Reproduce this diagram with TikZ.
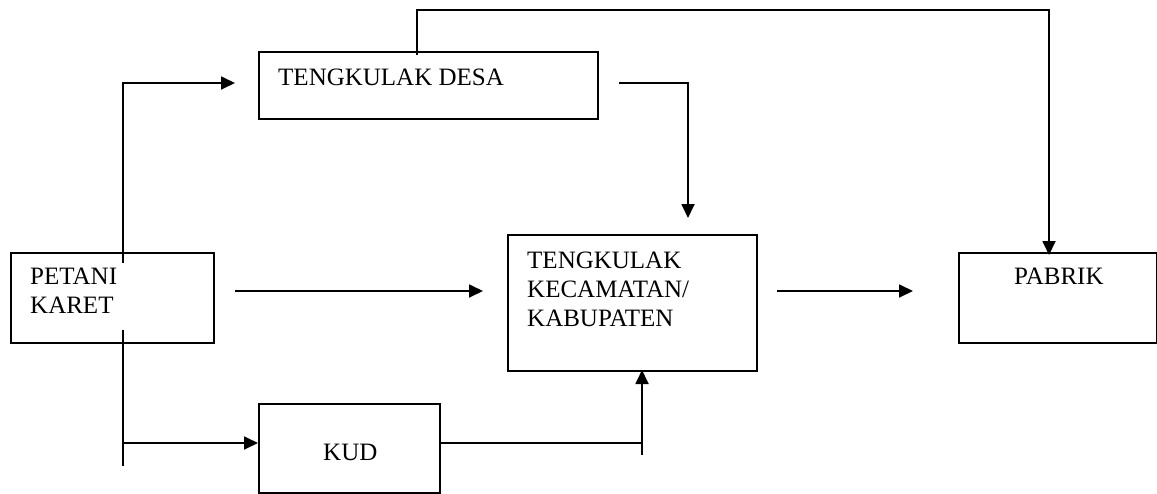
\documentclass[tikz,border=0pt]{standalone}
\usepackage{fontspec}
\setmainfont{Liberation Serif}
\usetikzlibrary{arrows.meta}
\tikzset{
  box/.style={draw=black, line width=1.8pt, rectangle, inner sep=0pt, anchor=north west},
  lbl/.style={inner sep=0pt, align=left, font=\fontsize{25}{28.8}\selectfont, anchor=base west},
  conn/.style={line width=1.8pt, draw=black},
  arr/.style={conn, -{Triangle[length=14pt,width=13pt]}}
}
\begin{document}
\begin{tikzpicture}[x=1pt,y=-1pt]
\useasboundingbox (0,0) rectangle (1157,493);
% boxes
\node[box, minimum width=339pt, minimum height=67pt] (td) at (258,51) {};
\node[box, minimum width=203pt, minimum height=90pt] (pk) at (10,252) {};
\node[box, minimum width=249pt, minimum height=136pt] (tk) at (507,234) {};
\node[box, minimum width=198pt, minimum height=90pt] (pb) at (958,252) {};
\node[box, minimum width=181pt, minimum height=89pt] (kud) at (258,403) {};
% texts (base = baseline of the last line)
\node[lbl] (tdt) at (278,85) {TENGKULAK DESA};
\node[lbl] (pkt) at (30,313) {PETANI\\KARET};
\node[lbl] (tkt) at (527,326) {TENGKULAK\\KECAMATAN/\\KABUPATEN};
\node[lbl] (pbt) at (1014,284) {PABRIK};
\node[lbl] (kudt) at (323,460) {KUD};
% connector points
\coordinate (pkUp) at (123,263);
\coordinate (tdIn) at (235,83);
\coordinate (tdTop) at (417,55);
\coordinate (topR) at (1049,10);
\coordinate (pbIn) at (1049,255);
\coordinate (tdR) at (619,83);
\coordinate (tkIn) at (688,218);
\coordinate (pkR) at (235,291);
\coordinate (tkL) at (483,291);
\coordinate (pkDn) at (123,330);
\coordinate (pkEnd) at (123,466);
\coordinate (kudJ) at (123,443);
\coordinate (kudR) at (439,443);
\coordinate (tkB) at (642,370);
\coordinate (stub) at (642,455);
\coordinate (tkR) at (777,291);
\coordinate (pbL) at (913,291);
% connectors
\draw[arr] (pkUp) |- (tdIn);
\draw[arr] (tdTop) |- (topR) -- (pbIn);
\draw[arr] (tdR) -| (tkIn);
\draw[arr] (pkR) -- (tkL);
\draw[conn] (pkDn) -- (pkEnd);
\draw[arr] (kudJ) -- (kud.west |- kudJ);
\draw[arr] (kudR) -| (tkB);
\draw[conn] (tkB) -- (stub);
\draw[arr] (tkR) -- (pbL);
\end{tikzpicture}
\end{document}
